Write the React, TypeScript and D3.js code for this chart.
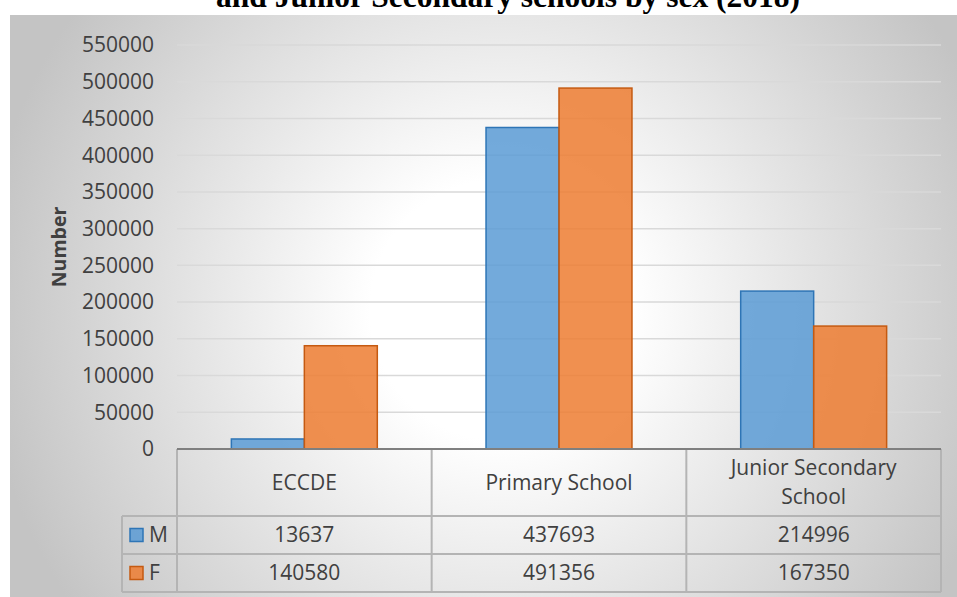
import React from 'react'
import * as d3 from 'd3'

const categories = ['ECCDE', 'Primary School', 'Junior Secondary School']
const categoryLines = [['ECCDE'], ['Primary School'], ['Junior Secondary', 'School']]
const seriesKeys = ['M', 'F']
const maleValues = [13637, 437693, 214996]
const femaleValues = [140580, 491356, 167350]
const yTicks = [0, 50000, 100000, 150000, 200000, 250000, 300000, 350000, 400000, 450000, 500000, 550000]

const W = 957
const H = 597
const FONT = '"Open Sans", "Noto Sans", sans-serif'
const TEXT = '#404040'
const FILL = { M: '#5b9bd5', F: '#ed7d31' }
const STROKE = { M: '#2e75b6', F: '#c55a11' }

export default function App() {
  const plot = { left: 177, right: 941, top: 45, bottom: 449 }
  const rowHeader = 516
  const rowM = 554
  const rowF = 592
  const legendLeft = 122

  const y = d3.scaleLinear().domain([0, 550000]).range([plot.bottom, plot.top])
  const x = d3.scaleBand<string>().domain(categories).range([plot.left, plot.right]).padding(0)
  const xi = d3
    .scaleBand<string>()
    .domain(seriesKeys)
    .range([0, x.bandwidth()])
    .paddingInner(0)
    .paddingOuter(0.745)

  const rows = [
    { key: 'M', values: maleValues, y0: rowHeader, y1: rowM },
    { key: 'F', values: femaleValues, y0: rowM, y1: rowF },
  ]

  const lineColor = '#b4b4b4'

  return (
    <svg width={W} height={H} style={{ position: 'absolute', left: 0, top: 0, background: '#fff' }}>
      <defs>
        <radialGradient id="bg" gradientUnits="userSpaceOnUse" cx={500} cy={310} r={520}>
          <stop offset="0" stopColor="#ffffff" />
          <stop offset="0.25" stopColor="#ffffff" />
          <stop offset="1" stopColor="#c4c4c4" />
        </radialGradient>
      </defs>

      {/* chart area */}
      <rect x={10} y={15} width={W - 10} height={H - 15} fill="url(#bg)" />

      {/* title, cut at the top as in the source */}
      <text
        x={508}
        y={7}
        textAnchor="middle"
        fontFamily='"Liberation Serif", "Times New Roman", serif'
        fontWeight="bold"
        fontSize={31.5}
        fill="#000"
      >
        and Junior Secondary schools by sex (2018)
      </text>

      {/* gridlines + tick labels */}
      {yTicks.map((t) => (
        <g key={t}>
          {t > 0 && (
            <line x1={plot.left} x2={plot.right} y1={y(t)} y2={y(t)} stroke="#d9d9d9" strokeWidth={1.5} />
          )}
          <text
            x={154}
            y={y(t)}
            dy="0.35em"
            textAnchor="end"
            fontFamily={FONT}
            fontSize={21}
            fill={TEXT}
          >
            {t}
          </text>
        </g>
      ))}

      <text
        transform={`translate(66,247) rotate(-90)`}
        textAnchor="middle"
        fontFamily={FONT}
        fontWeight="bold"
        fontSize={19.5}
        fill={TEXT}
      >
        Number
      </text>

      {/* bars */}
      {categories.map((c, i) =>
        rows.map((r) => {
          const bx = (x(c) ?? 0) + (xi(r.key) ?? 0)
          const by = y(r.values[i])
          return (
            <rect
              key={c + r.key}
              x={bx}
              y={by}
              width={xi.bandwidth()}
              height={plot.bottom - by}
              fill={FILL[r.key]}
              fillOpacity={0.85}
              stroke={STROKE[r.key]}
              strokeWidth={1.5}
            />
          )
        })
      )}

      {/* data table */}
      <g stroke={lineColor} strokeWidth={2} fill="none">
        <line x1={plot.left} x2={plot.left} y1={plot.bottom} y2={rowF} />
        <line x1={plot.right} x2={plot.right} y1={plot.bottom} y2={rowF} />
        {categories.slice(1).map((c) => (
          <line key={c} x1={x(c)} x2={x(c)} y1={plot.bottom} y2={rowF} />
        ))}
        <line x1={legendLeft} x2={legendLeft} y1={rowHeader} y2={rowF} />
        <line x1={legendLeft} x2={plot.right} y1={rowHeader} y2={rowHeader} />
        <line x1={legendLeft} x2={plot.right} y1={rowM} y2={rowM} />
        <line x1={legendLeft} x2={plot.right} y1={rowF} y2={rowF} />
      </g>
      <line x1={plot.left} x2={plot.right} y1={plot.bottom} y2={plot.bottom} stroke="#7f7f7f" strokeWidth={2} />

      {categories.map((c, i) => {
        const lines = categoryLines[i]
        const cx = (x(c) ?? 0) + x.bandwidth() / 2
        const cy = (plot.bottom + rowHeader) / 2
        return (
          <text
            key={c}
            x={cx}
            textAnchor="middle"
            fontFamily={FONT}
            fontSize={21}
            fill={TEXT}
          >
            {lines.map((l, k) => (
              <tspan key={l} x={cx} y={cy + (k - (lines.length - 1) / 2) * 29} dy="0.35em">
                {l}
              </tspan>
            ))}
          </text>
        )
      })}

      {rows.map((r) => {
        const cy = (r.y0 + r.y1) / 2
        return (
          <g key={r.key}>
            <rect
              x={130}
              y={cy - 6.5}
              width={13}
              height={13}
              fill={FILL[r.key]}
              fillOpacity={0.85}
              stroke={STROKE[r.key]}
              strokeWidth={1.5}
            />
            <text x={149} y={cy} dy="0.35em" fontFamily={FONT} fontSize={21} fill={TEXT}>
              {r.key}
            </text>
            {categories.map((c, i) => (
              <text
                key={c}
                x={(x(c) ?? 0) + x.bandwidth() / 2}
                y={cy}
                dy="0.35em"
                textAnchor="middle"
                fontFamily={FONT}
                fontSize={21}
                fill={TEXT}
              >
                {r.values[i]}
              </text>
            ))}
          </g>
        )
      })}
    </svg>
  )
}
